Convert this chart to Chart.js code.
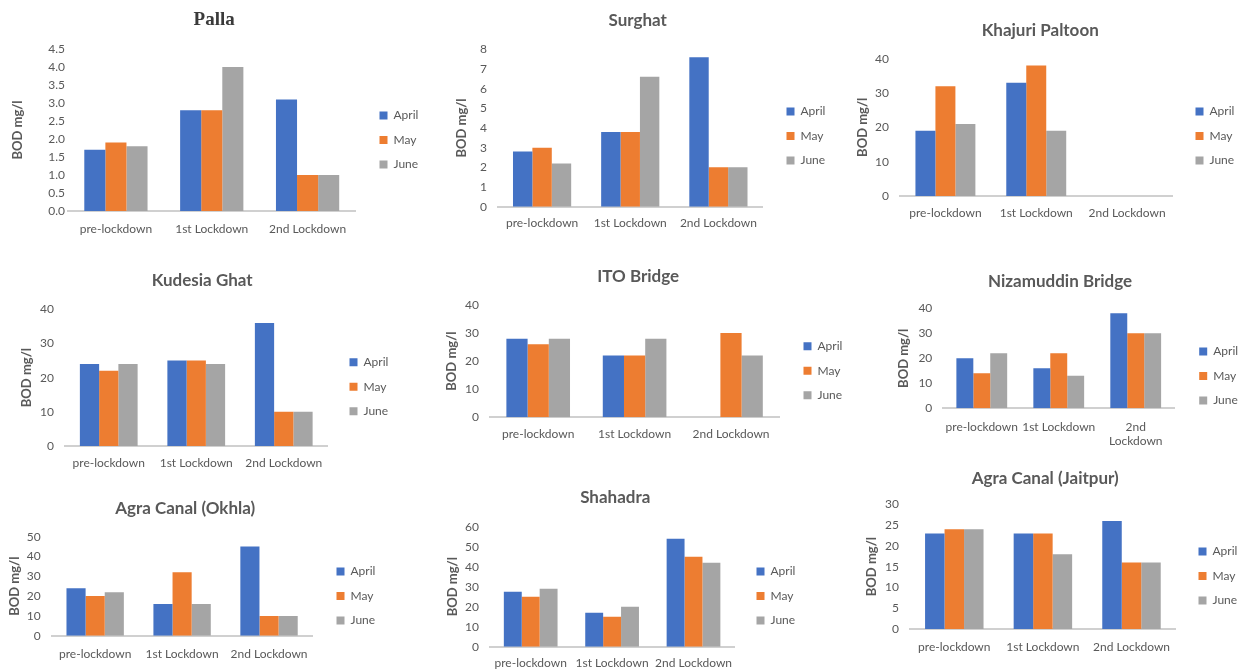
<!DOCTYPE html>
<html>
<head>
<meta charset="utf-8">
<script src="https://cdn.jsdelivr.net/npm/chart.js@4.4.1/dist/chart.umd.min.js"></script>
<style>
    html, body { margin: 0; padding: 0; background: #fff; width: 1245px; height: 669px; overflow: hidden; }
    body { position: relative; }
    canvas { position: absolute; }
</style>
</head>
<body>
<script>
const periods = ['pre-lockdown', '1st Lockdown', '2nd Lockdown'];
const periodsWrapped = ['pre-lockdown', '1st Lockdown', ['2nd', 'Lockdown']];
const months = ['April', 'May', 'June'];

const stations = ['Palla', 'Surghat', 'Khajuri Paltoon', 'Kudesia Ghat', 'ITO Bridge',
    'Nizamuddin Bridge', 'Agra Canal (Okhla)', 'Shahadra', 'Agra Canal (Jaitpur)'];

const pallaApril = [1.7, 2.8, 3.1];
const pallaMay = [1.9, 2.8, 1.0];
const pallaJune = [1.8, 4.0, 1.0];

const surghatApril = [2.8, 3.8, 7.6];
const surghatMay = [3.0, 3.8, 2.0];
const surghatJune = [2.2, 6.6, 2.0];

const khajuriApril = [19, 33, null];
const khajuriMay = [32, 38, null];
const khajuriJune = [21, 19, null];

const kudesiaApril = [24, 25, 36];
const kudesiaMay = [22, 25, 10];
const kudesiaJune = [24, 24, 10];

const itoApril = [28, 22, null];
const itoMay = [26, 22, 30];
const itoJune = [28, 28, 22];

const nizamuddinApril = [20, 16, 38];
const nizamuddinMay = [14, 22, 30];
const nizamuddinJune = [22, 13, 30];

const okhlaApril = [24, 16, 45];
const okhlaMay = [20, 32, 10];
const okhlaJune = [22, 16, 10];

const shahadraApril = [27.5, 17, 54];
const shahadraMay = [25, 15, 45];
const shahadraJune = [29, 20, 42];

const jaitpurApril = [23, 23, 26];
const jaitpurMay = [24, 23, 16];
const jaitpurJune = [24, 18, 16];

// y axis tick ranges, one per station
const yMax = [4.5, 8, 40, 40, 40, 40, 50, 60, 30];
const yStep = [0.5, 1, 10, 10, 10, 10, 10, 10, 5];
const yDecimals = [1, 0, 0, 0, 0, 0, 0, 0, 0];

const seriesByStation = [
    [pallaApril, pallaMay, pallaJune],
    [surghatApril, surghatMay, surghatJune],
    [khajuriApril, khajuriMay, khajuriJune],
    [kudesiaApril, kudesiaMay, kudesiaJune],
    [itoApril, itoMay, itoJune],
    [nizamuddinApril, nizamuddinMay, nizamuddinJune],
    [okhlaApril, okhlaMay, okhlaJune],
    [shahadraApril, shahadraMay, shahadraJune],
    [jaitpurApril, jaitpurMay, jaitpurJune],
];

// where each panel sits on the page (target pixels)
const panels = [
    { titleX: 214, titleY: 20, yTitleX: 18, plotLeft: 68, plotRight: 353, plotTop: 49, plotBottom: 211, legendX: 377, legendY: 140, labelY: 229, tickGap: 3, serif: true },
    { titleX: 637.5, titleY: 20, yTitleX: 461.7, plotLeft: 498, plotRight: 760, plotTop: 49.3, plotBottom: 206.7, legendX: 784, legendY: 136, labelY: 223 },
    { titleX: 1040, titleY: 30, yTitleX: 863, plotLeft: 900, plotRight: 1170, plotTop: 58.7, plotBottom: 196, legendX: 1193, legendY: 136, labelY: 213 },
    { titleX: 202, titleY: 280, yTitleX: 27, plotLeft: 65, plotRight: 325, plotTop: 309.3, plotBottom: 446, legendX: 347, legendY: 386.7, labelY: 463 },
    { titleX: 638, titleY: 276, yTitleX: 452, plotLeft: 490, plotRight: 776.7, plotTop: 305, plotBottom: 417.3, legendX: 801, legendY: 370.7, labelY: 434 },
    { titleX: 1060, titleY: 280.7, yTitleX: 904, plotLeft: 943.3, plotRight: 1171.7, plotTop: 308.3, plotBottom: 408.3, legendX: 1196.7, legendY: 376, labelY: 426.7, wrap: true },
    { titleX: 185, titleY: 508, yTitleX: 15, plotLeft: 51.7, plotRight: 310, plotTop: 536.7, plotBottom: 635.7, legendX: 334, legendY: 596, labelY: 654 },
    { titleX: 615, titleY: 497, yTitleX: 453, plotLeft: 490, plotRight: 731.7, plotTop: 526.7, plotBottom: 646.7, legendX: 754, legendY: 596, labelY: 663 },
    { titleX: 1045, titleY: 478, yTitleX: 871.7, plotLeft: 910, plotRight: 1173.3, plotTop: 504.3, plotBottom: 629, legendX: 1196, legendY: 576, labelY: 646.7 },
];

const monthColors = ['#4472C4', '#ED7D31', '#A5A5A5'];
const textColor = '#595959';
const FONT_FAMILY = 'Lato, "Open Sans", sans-serif';
const LEGEND_PAD = 12.5;
const LEGEND_BOX = 8;
const LEGEND_FONT = 12;
const Y_TITLE_SIZE = 13;
const TICK_SIZE = 12;

Chart.defaults.font.family = FONT_FAMILY;

// natural width of the right-hand legend, same sum Chart.js makes
function legendNaturalWidth() {
    const ctx = document.createElement('canvas').getContext('2d');
    ctx.font = `normal ${LEGEND_FONT}px ${FONT_FAMILY}`;
    const textWidth = Math.max(...months.map((m) => ctx.measureText(m).width));
    return LEGEND_BOX + LEGEND_FONT / 2 + textWidth + 2 * LEGEND_PAD;
}

const legendWidth = legendNaturalWidth();

function buildPanel(p, i) {
    const titleSize = p.serif ? 19 : 17;
    const titleLH = titleSize * 1.2;
    const gap = p.legendX - p.plotRight - LEGEND_PAD;

    // the title is centred between canvas left and legend right
    const left = Math.round(2 * p.titleX - p.plotRight - gap - legendWidth);
    const top = Math.round(p.titleY - titleLH / 2);
    const yAxisWidth = p.plotLeft - left;
    const yTitlePad = p.yTitleX - left - Y_TITLE_SIZE * 1.2 / 2;
    const rightEdge = p.plotRight + gap + legendWidth - left;
    const width = Math.ceil(rightEdge + 2);
    const bottom = 2 * p.legendY - top;
    const height = Math.ceil(bottom - top);
    const xAxisHeight = bottom - p.plotBottom;

    const canvas = document.createElement('canvas');
    canvas.width = width;
    canvas.height = height;
    canvas.style.left = left + 'px';
    canvas.style.top = top + 'px';
    canvas.style.width = width + 'px';
    canvas.style.height = height + 'px';
    document.body.appendChild(canvas);

    new Chart(canvas, {
        type: 'bar',
        data: {
            labels: p.wrap ? periodsWrapped : periods,
            datasets: months.map((month, k) => ({
                label: month,
                data: seriesByStation[i][k],
                backgroundColor: monthColors[k],
                borderWidth: 0,
                xAxisID: 'x',
                yAxisID: 'y',
                categoryPercentage: 0.66,
                barPercentage: 1,
            })),
        },
        options: {
            responsive: false,
            animation: false,
            devicePixelRatio: 1,
            layout: {
                padding: { left: 0, top: 0, right: width - rightEdge, bottom: height - (bottom - top) },
            },
            plugins: {
                title: {
                    display: true,
                    text: stations[i],
                    color: p.serif ? '#3a3a3a' : textColor,
                    font: {
                        family: p.serif ? '"Liberation Serif", "DejaVu Serif", serif' : FONT_FAMILY,
                        size: titleSize,
                        weight: 'bold',
                        lineHeight: 1.2,
                    },
                    padding: { top: 0, bottom: p.plotTop - top - titleLH },
                },
                legend: {
                    position: 'right',
                    labels: {
                        boxWidth: LEGEND_BOX,
                        boxHeight: LEGEND_BOX,
                        padding: LEGEND_PAD,
                        color: textColor,
                        textAlign: 'left',
                        font: { size: LEGEND_FONT },
                    },
                },
                tooltip: { enabled: false },
            },
            scales: {
                x: {
                    grid: { display: false, drawTicks: false },
                    border: { display: true, color: '#d0d0d0', width: 2 },
                    ticks: {
                        color: textColor,
                        font: { size: TICK_SIZE, lineHeight: 1.2 },
                        padding: p.labelY - p.plotBottom - TICK_SIZE * 1.2 / 2,
                        autoSkip: false,
                        maxRotation: 0,
                        minRotation: 0,
                    },
                    afterFit: (scale) => { scale.height = xAxisHeight; },
                },
                y: {
                    min: 0,
                    max: yMax[i],
                    grid: { display: false, drawTicks: false },
                    border: { display: false },
                    ticks: {
                        stepSize: yStep[i],
                        padding: p.tickGap ?? 11,
                        color: textColor,
                        font: { size: TICK_SIZE },
                        callback: (value) => Number(value).toFixed(yDecimals[i]),
                    },
                    title: {
                        display: true,
                        text: 'BOD mg/l',
                        color: textColor,
                        font: { size: Y_TITLE_SIZE, weight: 'bold', lineHeight: 1.2 },
                        padding: { top: yTitlePad, bottom: 4 },
                    },
                    afterFit: (scale) => { scale.width = yAxisWidth; },
                },
                gap: {
                    axis: 'y',
                    position: 'right',
                    display: true,
                    grid: { display: false, drawTicks: false },
                    border: { display: false },
                    ticks: { display: false },
                    afterFit: (scale) => { scale.width = gap; },
                },
            },
        },
    });
}

panels.forEach(buildPanel);
</script>
</body>
</html>
